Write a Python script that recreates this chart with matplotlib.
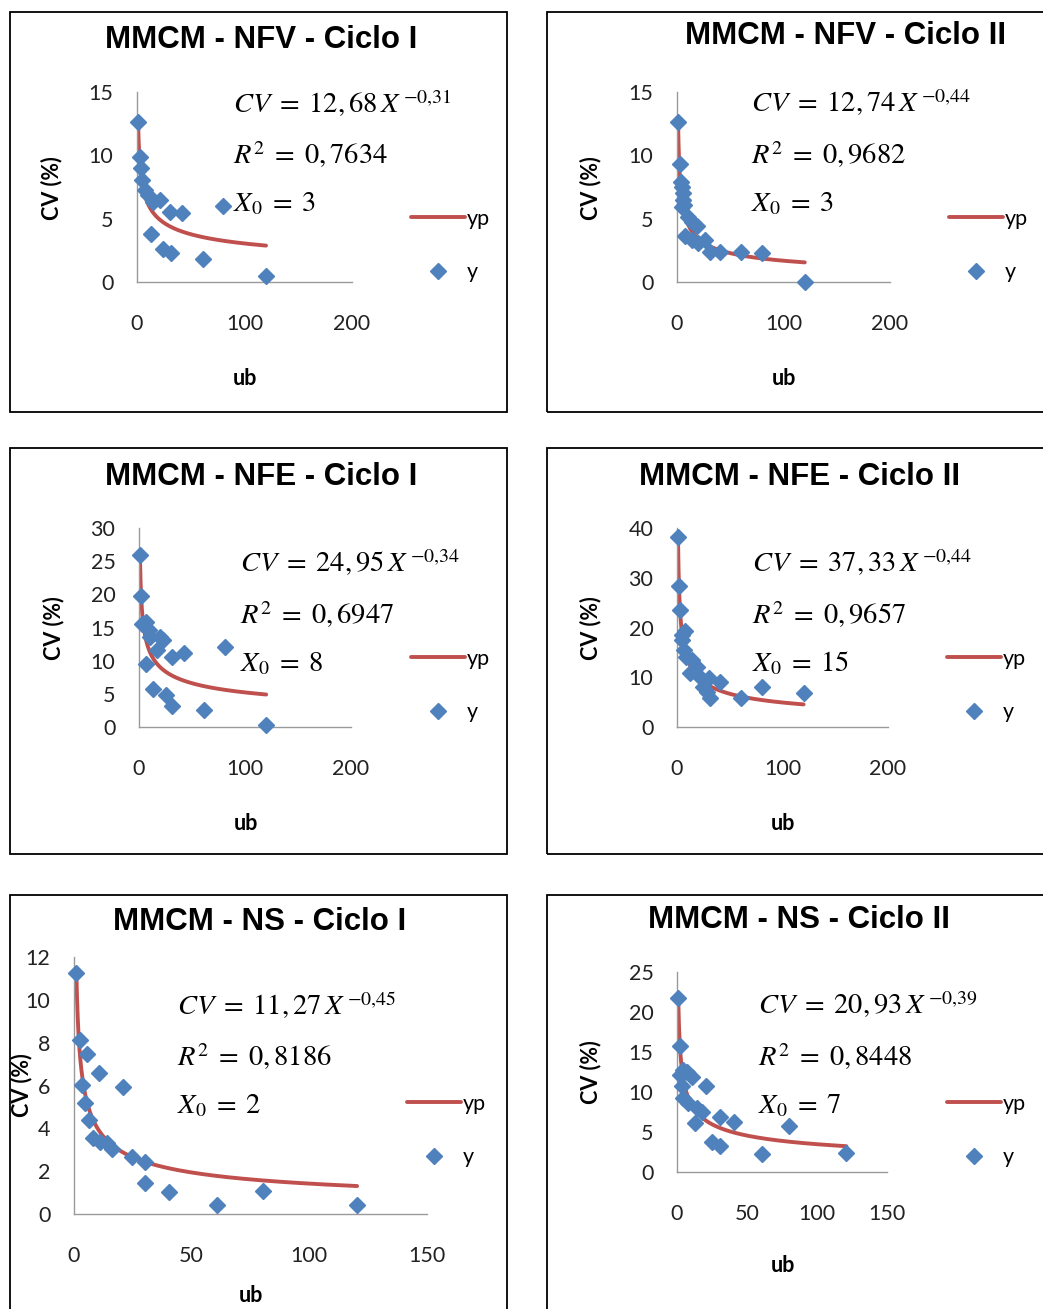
import matplotlib
matplotlib.use('Agg')
import matplotlib.pyplot as plt
from matplotlib.patches import Rectangle
from matplotlib.lines import Line2D
import numpy as np

plt.rcParams['mathtext.fontset'] = 'stix'

W, H = 1043, 1309

# data (ub, CV %)
titles = ['MMCM - NFV - Ciclo I', 'MMCM - NFV - Ciclo II',
          'MMCM - NFE - Ciclo I', 'MMCM - NFE - Ciclo II',
          'MMCM - NS - Ciclo I', 'MMCM - NS - Ciclo II']

nfv1_x = [1, 3, 4, 5, 7.5, 10.5, 15, 21, 31, 41.5, 80, 13, 24.5, 32, 61, 120]
nfv1_y = [12.6, 9.85, 9.0, 8.05, 7.25, 6.9, 6.3, 6.5, 5.55, 5.47, 6.0, 3.8, 2.6, 2.3, 1.8, 0.5]

nfv2_x = [1, 3, 3.5, 4.5, 5.5, 6, 6.5, 5, 10, 14, 18.5, 7.5, 14, 20, 26, 31, 40, 60, 80, 120]
nfv2_y = [12.6, 9.3, 7.9, 7.5, 7.0, 6.5, 6.1, 5.9, 5.15, 4.75, 4.4, 3.6, 3.3, 3.1, 3.3, 2.4, 2.4, 2.4, 2.3, 0.0]

nfe1_x = [1, 1.5, 2.5, 7, 9, 10, 20, 23, 17, 31, 42, 7, 81, 13.5, 25.5, 31, 61, 120]
nfe1_y = [25.9, 19.8, 15.6, 15.9, 14.6, 13.6, 13.6, 13.1, 11.6, 10.6, 11.1, 9.5, 12.1, 5.8, 4.8, 3.1, 2.6, 0.3]

nfe2_x = [1, 2, 3, 7.5, 4.5, 4.5, 7, 9, 14, 18.5, 12, 22, 30, 41, 25, 28, 31, 61, 81, 120]
nfe2_y = [38.1, 28.3, 23.5, 19.2, 18.5, 17.5, 15.5, 14.1, 13.5, 12.1, 10.8, 10.1, 9.8, 9.1, 8.1, 7.1, 5.8, 5.9, 8.1, 6.8]

ns1_x = [1, 2.5, 5.4, 10.7, 20.7, 3.3, 4.7, 6.5, 8.2, 11, 13.9, 16, 24.5, 30, 30, 40.5, 60.6, 80.4, 120.3]
ns1_y = [11.25, 8.13, 7.48, 6.6, 5.95, 6.03, 5.17, 4.39, 3.54, 3.38, 3.3, 3.02, 2.68, 2.45, 1.43, 1.04, 0.42, 1.09, 0.42]

ns2_x = [1, 2, 2, 4.5, 7, 11, 3.3, 20.7, 4.5, 8, 14, 17.6, 12.9, 30.7, 40.7, 80.2, 25, 31, 60.5, 121]
ns2_y = [21.7, 15.7, 12.1, 12.75, 12.5, 11.9, 10.7, 10.7, 9.2, 8.6, 8.0, 7.55, 6.1, 6.9, 6.3, 5.8, 3.8, 3.25, 2.3, 2.4]

# fitted model CV = a * X^b shown in each chart
coef_a = [12.68, 12.74, 24.95, 37.33, 11.27, 20.93]
coef_b = [-0.31, -0.44, -0.34, -0.44, -0.45, -0.39]
eq_a = ['12,68', '12,74', '24,95', '37,33', '11,27', '20,93']
eq_b = ['0{,}31', '0{,}44', '0{,}34', '0{,}44', '0{,}45', '0{,}39']
r2 = ['0,7634', '0,9682', '0,6947', '0,9657', '0,8186', '0,8448']
x0 = ['3', '3', '8', '15', '2', '7']

xs = [nfv1_x, nfv2_x, nfe1_x, nfe2_x, ns1_x, ns2_x]
ys = [nfv1_y, nfv2_y, nfe1_y, nfe2_y, ns1_y, ns2_y]
xmax = [200, 200, 200, 200, 150, 150]
xstep = [100, 100, 100, 100, 50, 50]
ymax = [15, 15, 30, 40, 12, 25]
ystep = [5, 5, 5, 10, 2, 5]

# layout in pixels
boxes = [(10, 12, 507, 412), (547, 12, 1046, 412),
         (10, 448, 507, 854), (547, 448, 1046, 854),
         (10, 895, 507, 1315), (547, 895, 1046, 1315)]
plots = [(137, 92, 352, 282), (677, 92, 890, 282),
         (139, 528, 351, 727), (677, 528, 888, 727),
         (74, 957, 427, 1214), (677, 972, 887, 1172)]
title_pos = [(261, 40), (846, 36), (261, 477), (800, 477), (260, 922), (799, 920)]
eq_pos = [(233, 103), (751, 103), (240, 563), (752, 563), (177, 1005), (758, 1005)]
ylab_pos = [(52, 188), (591, 188), (54, 628), (591, 628), (22, 1085), (591, 1072)]
xlab_pos = [(245, 378), (784, 378), (246, 823), (783, 823), (251, 1296), (783, 1266)]
leg_pos = [(411, 209), (949, 209), (411, 649), (947, 649), (407, 1094), (947, 1094)]

blue = '#4F81BD'
red = '#C0504D'
tick_font = 'Lato'

fig = plt.figure(figsize=(W / 100, H / 100), dpi=100)


def fx(x):
    return x / W


def fy(y):
    return 1 - y / H


for i in range(6):
    l, t, r, b = boxes[i]
    fig.add_artist(Rectangle((fx(l), fy(b)), (r - l) / W, (b - t) / H,
                             transform=fig.transFigure, fill=False,
                             ec='black', lw=1.3))

    l, t, r, b = plots[i]
    ax = fig.add_axes([fx(l), fy(b), (r - l) / W, (b - t) / H])
    x = np.array(xs[i])
    y = np.array(ys[i])

    xc = np.geomspace(x.min(), x.max(), 300)
    ax.plot(xc, coef_a[i] * xc ** coef_b[i], color=red, lw=2.8,
            solid_capstyle='round', zorder=2, label='yp')
    ax.plot(x, y, 'D', color=blue, ms=7.8, mec=blue, ls='none',
            zorder=3, clip_on=False, label='y')

    ax.set_xlim(0, xmax[i])
    ax.set_ylim(0, ymax[i])
    ax.set_xticks(np.arange(0, xmax[i] + 1, xstep[i]))
    ax.set_yticks(np.arange(0, ymax[i] + 1, ystep[i]))
    for s in ['top', 'right']:
        ax.spines[s].set_visible(False)
    for s in ['left', 'bottom']:
        ax.spines[s].set_color('#9a9a9a')
        ax.spines[s].set_linewidth(1.0)
    ax.tick_params(axis='both', length=0, labelsize=15.5, colors='#222222')
    ax.tick_params(axis='x', pad=23)
    ax.tick_params(axis='y', pad=17)
    for lab in ax.get_xticklabels() + ax.get_yticklabels():
        lab.set_fontfamily(tick_font)

    ax.set_xlabel('ub', fontfamily=tick_font, fontweight='bold', fontsize=15.5)
    ax.xaxis.set_label_coords(fx(xlab_pos[i][0]), fy(xlab_pos[i][1]),
                              transform=fig.transFigure)
    ax.xaxis.label.set_va('center')
    ax.set_ylabel('CV (%)', fontfamily=tick_font, fontweight='bold', fontsize=15.5)
    ax.yaxis.set_label_coords(fx(ylab_pos[i][0]), fy(ylab_pos[i][1]),
                              transform=fig.transFigure)
    ax.yaxis.label.set_va('center')

    fig.text(fx(title_pos[i][0]), fy(title_pos[i][1]), titles[i],
             ha='center', va='center', fontfamily='Liberation Sans',
             fontweight='bold', fontsize=22.5)

    ex, ey = eq_pos[i]
    fig.text(fx(ex), fy(ey), r'$CV\;=\;%s\,X^{\,{-}%s}$' % (eq_a[i], eq_b[i]),
             ha='left', va='center', fontsize=20.5)
    fig.text(fx(ex), fy(ey + 52), r'$R^2\;=\;%s$' % r2[i],
             ha='left', va='center', fontsize=20.5)
    fig.text(fx(ex), fy(ey + 100), r'$X_{\mathrm{0}}\;=\;%s$' % x0[i],
             ha='left', va='center', fontsize=20.5)

    handles = [Line2D([], [], color=red, lw=2.8, solid_capstyle='round'),
               Line2D([], [], marker='D', color=blue, ms=7.8, ls='none')]
    ax.legend(handles, ['yp', 'y'], loc='upper left',
              bbox_to_anchor=(fx(leg_pos[i][0]), fy(leg_pos[i][1])),
              bbox_transform=fig.transFigure, frameon=False,
              prop={'family': tick_font, 'size': 15.5},
              handlelength=2.5, handletextpad=0.1, labelspacing=1.55,
              borderpad=0, borderaxespad=0)

fig.savefig('out.png', dpi=100)
